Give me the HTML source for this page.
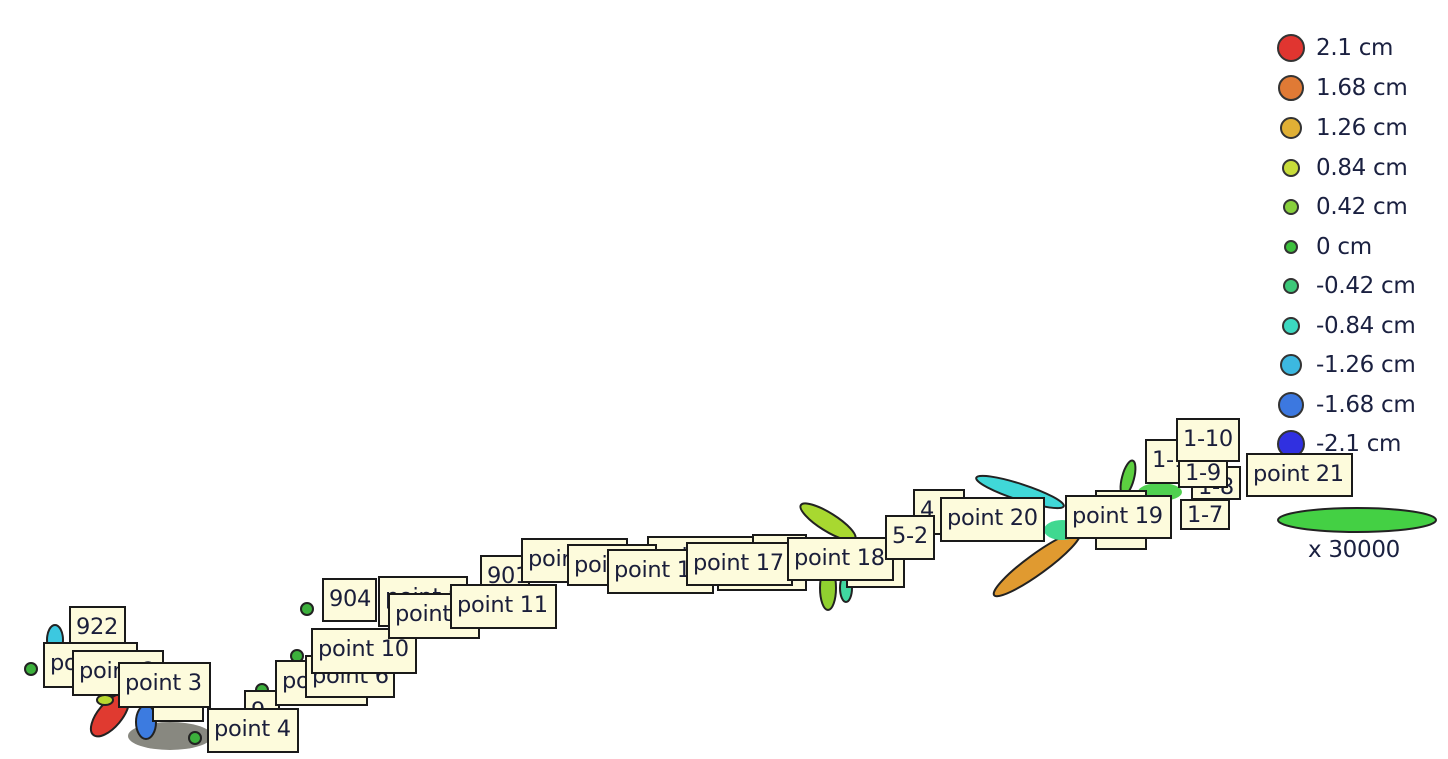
<!DOCTYPE html>
<html><head><meta charset="utf-8"><style>
html,body{margin:0;padding:0;background:#fff;width:1448px;height:759px;overflow:hidden;position:relative;font-family:"DejaVu Sans","Liberation Sans",sans-serif;}
svg{position:absolute;left:0;top:0}
.b{position:absolute;box-sizing:border-box;background:#fdfbdc;border:2px solid #1a1a1a;overflow:hidden;white-space:nowrap;font-size:22.5px;color:#1a1e3a;padding:5px 0 0 5px;line-height:28px;letter-spacing:-0.3px}
.lg{position:absolute;left:1316px;font-size:23px;color:#1a2040;white-space:nowrap;line-height:24px;letter-spacing:-0.3px}
</style></head><body>
<svg width="1448" height="759" viewBox="0 0 1448 759">
<g stroke="#222" stroke-width="2">
<ellipse cx="170" cy="736" rx="42" ry="14" fill="#6a6a60" stroke="none" opacity="0.8"/>
<ellipse cx="55" cy="640" rx="8" ry="15" fill="#3cc8e0"/>
<ellipse cx="110" cy="715" rx="12" ry="26" transform="rotate(40 110 715)" fill="#e03a30"/>
<ellipse cx="146" cy="722" rx="10" ry="17" fill="#3c7be0"/>
<ellipse cx="105" cy="700" rx="8" ry="5" fill="#b8d830"/>
<circle cx="31" cy="669" r="6" fill="#3cb03c"/>
<circle cx="307" cy="609" r="6" fill="#3cb03c"/>
<circle cx="195" cy="738" r="6" fill="#3cb03c"/>
<circle cx="297" cy="656" r="6" fill="#3cb03c"/>
<circle cx="262" cy="690" r="6" fill="#3cb03c"/>
<ellipse cx="828" cy="522" rx="32" ry="9" transform="rotate(32 828 522)" fill="#a8d830"/>
<ellipse cx="828" cy="588" rx="8" ry="22" fill="#90d030"/>
<ellipse cx="846" cy="588" rx="6" ry="14" fill="#40d8a0"/>
<ellipse cx="1020" cy="492" rx="46" ry="8" transform="rotate(18 1020 492)" fill="#40d8d8"/>
<ellipse cx="1037" cy="564" rx="53" ry="10" transform="rotate(-36 1037 564)" fill="#e09a30"/>
<ellipse cx="1062" cy="530" rx="18" ry="10" fill="#40d890" stroke="none"/>
<ellipse cx="1128" cy="478" rx="6" ry="18" transform="rotate(15 1128 478)" fill="#5cd040"/>
<ellipse cx="1160" cy="492" rx="22" ry="9" fill="#50d050" stroke="none"/>
<ellipse cx="1357" cy="520" rx="79" ry="12" fill="#44d044"/>
</g>
<g stroke="#333" stroke-width="2">
<circle cx="1291" cy="48" r="13" fill="#e03530"/>
<circle cx="1291" cy="88" r="12" fill="#e07a35"/>
<circle cx="1291" cy="128" r="10" fill="#e0b035"/>
<circle cx="1291" cy="168" r="8" fill="#c8dc3a"/>
<circle cx="1291" cy="207" r="7" fill="#88d03c"/>
<circle cx="1291" cy="247" r="6" fill="#3cc03c"/>
<circle cx="1291" cy="286" r="7" fill="#3cc878"/>
<circle cx="1291" cy="326" r="8" fill="#3cd8c0"/>
<circle cx="1291" cy="365" r="10" fill="#3cb8e0"/>
<circle cx="1291" cy="405" r="12" fill="#3c78e0"/>
</g>
</svg>
<div class="lg" style="top:36px">2.1 cm</div>
<div class="lg" style="top:76px">1.68 cm</div>
<div class="lg" style="top:116px">1.26 cm</div>
<div class="lg" style="top:156px">0.84 cm</div>
<div class="lg" style="top:195px">0.42 cm</div>
<div class="lg" style="top:235px">0 cm</div>
<div class="lg" style="top:274px">-0.42 cm</div>
<div class="lg" style="top:314px">-0.84 cm</div>
<div class="lg" style="top:353px">-1.26 cm</div>
<div class="lg" style="top:393px">-1.68 cm</div>
<div class="lg" style="top:432px">-2.1 cm</div>
<div class="lg" style="top:538px;left:1308px">x 30000</div>

<div class="b" style="left:69px;top:606px;width:57px;height:42px">922</div>
<div class="b" style="left:43px;top:642px;width:95px;height:46px">point 1</div>
<div class="b" style="left:72px;top:650px;width:92px;height:46px">point 2</div>
<div class="b" style="left:152px;top:677px;width:52px;height:45px">921</div>
<div class="b" style="left:118px;top:662px;width:93px;height:46px">point 3</div>
<div class="b" style="left:244px;top:690px;width:36px;height:30px">9</div>
<div class="b" style="left:207px;top:708px;width:92px;height:45px">point 4</div>
<div class="b" style="left:275px;top:660px;width:93px;height:46px">point 5</div>
<div class="b" style="left:305px;top:655px;width:90px;height:43px">point 6</div>
<div class="b" style="left:311px;top:628px;width:106px;height:46px">point 10</div>
<div class="b" style="left:322px;top:578px;width:55px;height:44px">904</div>
<div class="b" style="left:378px;top:576px;width:90px;height:51px">point 8</div>
<div class="b" style="left:388px;top:593px;width:92px;height:46px">point 9</div>
<div class="b" style="left:480px;top:555px;width:50px;height:44px">901</div>
<div class="b" style="left:450px;top:584px;width:107px;height:45px">point 11</div>
<div class="b" style="left:521px;top:538px;width:107px;height:45px">point 12</div>
<div class="b" style="left:647px;top:536px;width:110px;height:46px">point 15</div>
<div class="b" style="left:567px;top:544px;width:90px;height:42px">point 13</div>
<div class="b" style="left:717px;top:545px;width:90px;height:46px">point 16</div>
<div class="b" style="left:607px;top:549px;width:107px;height:45px">point 14</div>
<div class="b" style="left:752px;top:534px;width:55px;height:40px">9</div>
<div class="b" style="left:686px;top:542px;width:107px;height:44px">point 17</div>
<div class="b" style="left:846px;top:543px;width:59px;height:45px">3</div>
<div class="b" style="left:787px;top:537px;width:107px;height:44px">point 18</div>
<div class="b" style="left:913px;top:489px;width:52px;height:46px">4</div>
<div class="b" style="left:885px;top:515px;width:50px;height:45px">5-2</div>
<div class="b" style="left:940px;top:497px;width:105px;height:45px">point 20</div>
<div class="b" style="left:1095px;top:490px;width:52px;height:60px">2</div>
<div class="b" style="left:1065px;top:495px;width:107px;height:44px">point 19</div>
<div class="b" style="left:1145px;top:439px;width:48px;height:45px">1-11</div>
<div class="b" style="left:1191px;top:466px;width:50px;height:34px">1-8</div>
<div class="b" style="left:1180px;top:499px;width:50px;height:31px;padding-top:0">1-7</div>
<div class="b" style="left:1178px;top:452px;width:50px;height:36px">1-9</div>
<div class="b" style="left:1176px;top:418px;width:64px;height:44px">1-10</div>
<svg width="1448" height="759" viewBox="0 0 1448 759" style="pointer-events:none"><circle cx="1291" cy="444" r="13" fill="#3030e0" stroke="#333" stroke-width="2"/></svg>
<div class="b" style="left:1246px;top:453px;width:107px;height:44px">point 21</div>
</body></html>
